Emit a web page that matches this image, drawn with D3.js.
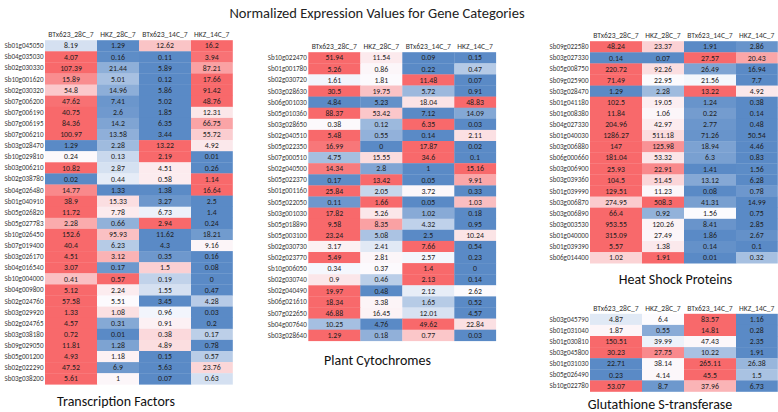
<!DOCTYPE html>
<html>
<head>
<meta charset="utf-8">
<script src="https://cdn.jsdelivr.net/npm/d3@7"></script>
<style>
  html, body { margin: 0; padding: 0; background: #fff; }
  svg { display: block; }
  text { font-family: Carlito, Calibri, Lato, "Open Sans", sans-serif; }
</style>
</head>
<body>
<svg id="chart" width="778" height="412"></svg>
<script>
// ---------------- DATA ----------------
const chartTitle = "Normalized Expression Values for Gene Categories";
const conditions = ["BTx623_28C_7", "HKZ_28C_7", "BTx623_14C_7", "HKZ_14C_7"];

const tfTitle = "Transcription Factors";
const tfGenes = ["Sb01g045050","Sb04g035030","Sb02g030330","Sb10g001620","Sb02g030320","Sb07g006200","Sb07g006190","Sb07g006195","Sb07g006210","Sb03g028470","Sb10g029810","Sb03g006210","Sb02g038780","Sb04g026480","Sb01g040910","Sb05g026820","Sb05g027783","Sb10g026450","Sb07g019400","Sb03g026170","Sb04g016540","Sb10g004000","Sb04g009800","Sb02g024760","Sb03g029920","Sb02g024765","Sb03g038180","Sb09g029050","Sb05g001200","Sb02g022290","Sb03g038200"];
const tfValues = [
  [8.19,1.29,12.62,16.2],[4.07,0.16,0.11,3.94],[107.39,21.44,5.89,87.21],[15.89,5.01,0.12,17.66],
  [54.8,14.96,5.86,91.42],[47.62,7.41,5.02,48.76],[40.75,2.6,1.85,12.31],[84.36,14.2,6.35,66.75],
  [100.97,13.58,3.44,55.72],[1.29,2.28,13.22,4.92],[0.24,0.13,2.19,0.01],[10.82,2.87,4.51,0.26],
  [0.02,0.44,0.58,1.14],[14.77,1.33,1.38,16.64],[38.9,15.33,3.27,2.5],[11.72,7.78,6.73,1.4],
  [2.28,0.66,2.94,0.24],[152.6,95.93,11.62,18.21],[40.4,6.23,4.3,9.16],[4.51,3.12,0.35,0.16],
  [3.07,0.17,1.5,0.08],[0.41,0.57,0.19,0],[5.12,2.24,1.55,0.47],[57.58,5.51,3.45,4.28],
  [1.33,1.08,0.96,0.03],[4.57,0.31,0.91,0.2],[0.72,0.01,0.38,0.17],[11.81,1.28,4.89,0.78],
  [4.93,1.18,0.15,0.57],[47.52,6.9,5.63,23.76],[5.61,1,0.07,0.63]
];

const cytTitle = "Plant Cytochromes";
const cytGenes = ["Sb10g022470","Sb01g001780","Sb02g030720","Sb03g028630","Sb06g001030","Sb05g010360","Sb03g028650","Sb02g040510","Sb05g022350","Sb07g000510","Sb02g040500","Sb05g022370","Sb01g001160","Sb05g022050","Sb03g001030","Sb05g018890","Sb05g003100","Sb02g030730","Sb02g023770","Sb10g006050","Sb02g030740","Sb02g040490","Sb06g021610","Sb07g022650","Sb04g007640","Sb03g028640"];
const cytValues = [
  [51.94,11.54,0.09,0.15],[5.26,0.86,0.22,0.47],[1.61,1.81,11.48,0.07],[30.5,19.75,5.72,0.91],
  [4.84,5.23,18.04,48.83],[88.37,53.42,7.12,14.09],[0.38,0.12,6.35,0.03],[5.48,0.55,0.14,2.11],
  [16.99,0,17.87,0.02],[4.75,15.55,34.6,0.1],[14.34,2.8,1,15.16],[0.17,13.42,0.05,9.91],
  [25.84,2.05,3.72,0.33],[0.11,1.66,0.05,1.03],[17.82,5.26,1.02,0.18],[9.58,8.35,4.32,0.95],
  [23.24,5.08,2.5,10.24],[3.17,2.41,7.66,0.54],[5.49,2.81,2.57,0.23],[0.34,0.37,1.4,0],
  [0.9,0.46,2.13,0.14],[19.97,0.48,2.12,2.62],[18.34,3.38,1.65,0.52],[46.88,16.45,12.01,4.57],
  [10.25,4.76,49.62,22.84],[1.29,0.18,0.77,0.03]
];

const hspTitle = "Heat Shock Proteins";
const hspGenes = ["Sb09g022580","Sb03g027330","Sb05g008750","Sb09g025900","Sb03g028470","Sb01g041180","Sb01g008380","Sb04g027330","Sb01g040030","Sb03g006880","Sb06g000660","Sb03g006900","Sb03g039360","Sb01g039990","Sb03g006870","Sb03g006890","Sb03g003530","Sb01g040000","Sb01g039390","Sb06g014400"];
const hspValues = [
  [48.24,23.37,1.91,2.86],[0.14,0.07,27.57,20.43],[220.72,92.26,26.49,16.94],[71.49,22.95,21.56,7.7],
  [1.29,2.28,13.22,4.92],[102.5,19.05,1.24,0.38],[11.84,1.06,0.22,0.14],[204.96,42.97,2.77,0.48],
  [1286.27,511.18,71.26,50.54],[147,125.98,18.94,4.46],[181.04,53.32,6.3,0.83],[25.93,22.91,1.41,1.56],
  [104.5,51.45,13.12,6.28],[129.51,11.23,0.08,0.78],[274.95,508.3,41.31,14.99],[66.4,0.92,1.56,0.75],
  [953.55,120.26,8.41,2.85],[315.09,27.49,1.86,2.67],[5.57,1.38,0.14,0.1],[1.02,1.91,0.01,0.32]
];

const gstTitle = "Glutathione S-transferase";
const gstGenes = ["Sb03g045790","Sb01g031040","Sb01g030810","Sb03g045800","Sb01g031030","Sb05g026490","Sb10g022780"];
const gstValues = [
  [4.87,6.4,83.57,1.16],[1.87,0.55,14.81,0.28],[150.51,39.99,47.43,2.35],[30.23,27.75,10.22,1.91],
  [22.71,38.14,265.11,26.38],[0.23,4.14,45.5,1.5],[53.07,8.7,37.96,6.73]
];

// ---------------- LAYOUT ----------------
const svg = d3.select("#chart");
const rowH = 11.1;
const colWidths = [52, 42, 52, 41.5];
const colOffsets = colWidths.map((w, i) => d3.sum(colWidths.slice(0, i)));
const lowColor = "#5a8ac6", midColor = "#fcfcff", highColor = "#f8696b";

const panels = [
  {genes: tfGenes,  values: tfValues,  title: tfTitle,  x0: 45,    top: 40.2,  titleX: 116,   titleY: 406},
  {genes: cytGenes, values: cytValues, title: cytTitle, x0: 308.3, top: 52.2,  titleX: 377.5, titleY: 365},
  {genes: hspGenes, values: hspValues, title: hspTitle, x0: 590,   top: 41.2,  titleX: 675.5, titleY: 283.5},
  {genes: gstGenes, values: gstValues, title: gstTitle, x0: 590,   top: 313.8, titleX: 660,   titleY: 409}
];

svg.append("text")
  .attr("x", 377).attr("y", 18)
  .attr("text-anchor", "middle")
  .attr("font-size", 14.5)
  .attr("fill", "#222")
  .text(chartTitle);

panels.forEach(p => {
  const g = svg.append("g");
  const y = d3.scaleBand().domain(p.genes).range([p.top, p.top + p.genes.length * rowH]);
  const xs = d3.scaleOrdinal().domain(conditions).range(colOffsets.map(o => p.x0 + o));
  const ws = d3.scaleOrdinal().domain(conditions).range(colWidths);

  // column headers
  g.selectAll("text.hdr").data(conditions).join("text")
    .attr("class", "hdr")
    .attr("x", c => xs(c) + ws(c) / 2)
    .attr("y", p.top - 3)
    .attr("text-anchor", "middle")
    .attr("font-size", 7.6)
    .attr("fill", "#333")
    .text(c => c);

  // row labels
  g.selectAll("text.lbl").data(p.genes).join("text")
    .attr("class", "lbl")
    .attr("x", p.x0 - 1.5)
    .attr("y", d => y(d) + y.bandwidth() / 2)
    .attr("dy", "0.35em")
    .attr("text-anchor", "end")
    .attr("font-size", 7.1)
    .attr("fill", "#3a3a3a")
    .text(d => d);

  // cells
  const rows = g.selectAll("g.row").data(p.genes.map((gene, i) => ({gene, vals: p.values[i]})))
    .join("g").attr("class", "row");

  rows.each(function(r) {
    const ext = d3.extent(r.vals);
    const med = d3.median(r.vals);
    const color = d3.scaleLinear().domain([ext[0], med, ext[1]])
      .range([lowColor, midColor, highColor]).interpolate(d3.interpolateRgb);
    const cells = conditions.map((c, j) => ({c, v: r.vals[j]}));
    const rg = d3.select(this);
    rg.selectAll("rect").data(cells).join("rect")
      .attr("x", d => xs(d.c))
      .attr("y", y(r.gene))
      .attr("width", d => ws(d.c) + 0.3)
      .attr("height", y.bandwidth() + 0.3)
      .attr("fill", d => color(d.v));
    rg.selectAll("text").data(cells).join("text")
      .attr("x", d => xs(d.c) + ws(d.c) / 2)
      .attr("y", y(r.gene) + y.bandwidth() / 2)
      .attr("dy", "0.35em")
      .attr("text-anchor", "middle")
      .attr("font-size", 7.8)
      .attr("fill", "#1e1e1e")
      .text(d => String(d.v));
  });

  // panel title
  svg.append("text")
    .attr("x", p.titleX).attr("y", p.titleY)
    .attr("text-anchor", "middle")
    .attr("font-size", 14)
    .attr("fill", "#111")
    .text(p.title);
});
</script>
</body>
</html>
